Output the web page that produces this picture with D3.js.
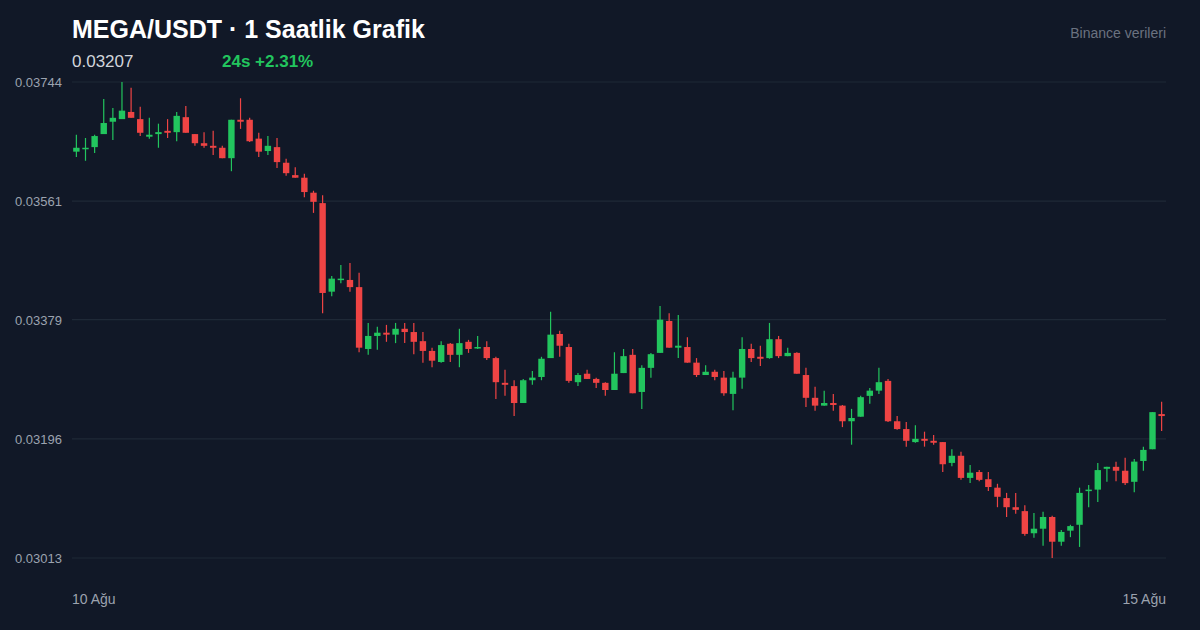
<!DOCTYPE html>
<html>
<head>
<meta charset="utf-8">
<script src="https://cdn.jsdelivr.net/npm/d3@7"></script>
<style>
  body { margin: 0; background: #111827; }
  svg { display: block; font-family: "Liberation Sans", Arial, sans-serif; }
</style>
</head>
<body>
<svg width="1200" height="630"></svg>
<script>
// hourly candles, 10 Ağu -> 15 Ağu (prices in USDT)
const open = [0.03637,0.03641,0.03644,0.03664,0.03683,0.03687,0.03698,0.03687,0.03660,0.03664,0.03669,0.03667,0.03690,0.03664,0.03650,0.03646,0.03643,0.03627,0.03686,0.03686,
  0.03657,0.03638,0.03644,0.03620,0.03601,0.03597,0.03574,0.03558,0.03422,0.03440,0.03440,0.03429,0.03334,0.03354,0.03359,0.03356,0.03365,0.03360,0.03346,0.03331,
  0.03314,0.03342,0.03325,0.03345,0.03336,0.03337,0.03320,0.03282,0.03277,0.03251,0.03286,0.03291,0.03320,0.03357,0.03337,0.03283,0.03296,0.03288,0.03282,0.03271,
  0.03297,0.03325,0.03268,0.03305,0.03328,0.03377,0.03336,0.03337,0.03313,0.03294,0.03299,0.03290,0.03265,0.03290,0.03334,0.03322,0.03320,0.03349,0.03323,0.03328,
  0.03294,0.03259,0.03247,0.03251,0.03247,0.03223,0.03230,0.03262,0.03270,0.03285,0.03223,0.03211,0.03191,0.03196,0.03193,0.03191,0.03159,0.03170,0.03136,0.03145,
  0.03134,0.03121,0.03105,0.03091,0.03085,0.03051,0.03058,0.03076,0.03038,0.03055,0.03064,0.03116,0.03118,0.03150,0.03153,0.03147,0.03130,0.03162,0.03180,0.03234];
const high = [0.03663,0.03658,0.03663,0.03718,0.03704,0.03744,0.03735,0.03706,0.03689,0.03680,0.03687,0.03698,0.03707,0.03664,0.03667,0.03669,0.03646,0.03686,0.03719,0.03689,
  0.03666,0.03661,0.03658,0.03626,0.03613,0.03603,0.03577,0.03570,0.03446,0.03463,0.03466,0.03451,0.03374,0.03368,0.03371,0.03374,0.03374,0.03374,0.03360,0.03336,
  0.03346,0.03343,0.03365,0.03348,0.03354,0.03346,0.03322,0.03302,0.03286,0.03288,0.03300,0.03322,0.03391,0.03362,0.03342,0.03297,0.03302,0.03290,0.03283,0.03329,
  0.03334,0.03334,0.03309,0.03328,0.03400,0.03389,0.03386,0.03352,0.03320,0.03309,0.03302,0.03300,0.03299,0.03352,0.03342,0.03339,0.03374,0.03354,0.03336,0.03329,
  0.03305,0.03276,0.03270,0.03265,0.03248,0.03242,0.03262,0.03274,0.03305,0.03288,0.03231,0.03222,0.03217,0.03207,0.03202,0.03191,0.03180,0.03176,0.03156,0.03148,
  0.03145,0.03127,0.03113,0.03113,0.03094,0.03082,0.03084,0.03078,0.03056,0.03064,0.03121,0.03125,0.03159,0.03153,0.03161,0.03167,0.03165,0.03184,0.03237,0.03253];
const low = [0.03629,0.03623,0.03635,0.03664,0.03655,0.03687,0.03689,0.03661,0.03657,0.03643,0.03658,0.03653,0.03666,0.03646,0.03643,0.03632,0.03627,0.03607,0.03672,0.03652,
  0.03629,0.03632,0.03612,0.03600,0.03597,0.03567,0.03543,0.03389,0.03415,0.03435,0.03422,0.03329,0.03325,0.03333,0.03345,0.03343,0.03343,0.03326,0.03313,0.03306,
  0.03313,0.03314,0.03306,0.03328,0.03334,0.03317,0.03257,0.03262,0.03231,0.03251,0.03279,0.03286,0.03320,0.03322,0.03282,0.03277,0.03288,0.03274,0.03262,0.03271,
  0.03297,0.03266,0.03242,0.03290,0.03328,0.03336,0.03320,0.03313,0.03291,0.03294,0.03286,0.03262,0.03240,0.03273,0.03314,0.03308,0.03319,0.03320,0.03323,0.03296,
  0.03245,0.03239,0.03247,0.03239,0.03214,0.03187,0.03230,0.03250,0.03265,0.03222,0.03210,0.03184,0.03190,0.03184,0.03187,0.03145,0.03154,0.03133,0.03128,0.03131,
  0.03116,0.03091,0.03076,0.03081,0.03047,0.03044,0.03032,0.03013,0.03032,0.03045,0.03030,0.03091,0.03099,0.03130,0.03131,0.03125,0.03114,0.03147,0.03180,0.03208];
const close = [0.03643,0.03643,0.03661,0.03681,0.03689,0.03700,0.03689,0.03666,0.03663,0.03667,0.03666,0.03692,0.03666,0.03650,0.03646,0.03643,0.03627,0.03686,0.03683,0.03653,
  0.03637,0.03646,0.03621,0.03604,0.03597,0.03575,0.03560,0.03420,0.03442,0.03442,0.03429,0.03336,0.03354,0.03359,0.03356,0.03365,0.03360,0.03345,0.03331,0.03316,
  0.03340,0.03325,0.03343,0.03334,0.03337,0.03320,0.03283,0.03279,0.03251,0.03286,0.03290,0.03319,0.03356,0.03339,0.03285,0.03294,0.03288,0.03282,0.03271,0.03296,
  0.03323,0.03266,0.03305,0.03326,0.03379,0.03336,0.03339,0.03313,0.03294,0.03299,0.03291,0.03266,0.03290,0.03334,0.03320,0.03319,0.03349,0.03323,0.03328,0.03296,
  0.03259,0.03247,0.03251,0.03248,0.03223,0.03228,0.03260,0.03270,0.03283,0.03223,0.03211,0.03193,0.03196,0.03193,0.03190,0.03157,0.03170,0.03136,0.03144,0.03133,
  0.03122,0.03107,0.03091,0.03087,0.03050,0.03058,0.03076,0.03038,0.03053,0.03062,0.03113,0.03118,0.03148,0.03153,0.03147,0.03128,0.03161,0.03179,0.03237,0.03231];
const yTicks = [0.03744, 0.03561, 0.03379, 0.03196, 0.03013];
const dateLabels = ['10 Ağu', '15 Ağu'];

const candles = open.map((o, i) => ({ i, o, h: high[i], l: low[i], c: close[i] }));

const svg = d3.select('svg');
const plotL = 72, plotR = 1166, plotT = 82, plotB = 558;

const x = d3.scalePoint().domain(d3.range(candles.length)).range([plotL, plotR]).padding(0.48);
const y = d3.scaleLinear().domain([0.03013, 0.03744]).range([plotB, plotT]);

// grid + labels
svg.selectAll('line.grid')
    .data(yTicks)
    .enter()
    .append('line')
    .attr('x1', plotL).attr('x2', plotR)
    .attr('y1', d => y(d)).attr('y2', d => y(d))
    .style('stroke', '#1f2937')
    .style('stroke-width', 1.2);

svg.selectAll('text.ytick')
    .data(yTicks)
    .enter()
    .append('text')
    .attr('x', 15)
    .attr('y', d => y(d) + 5)
    .style('fill', '#9ca3af')
    .style('font-size', '13px')
    .text(d => d.toFixed(5));

const green = '#22c55e', red = '#ef4444';
const col = d => d.c >= d.o ? green : red;

const g = svg.selectAll('g.candle')
    .data(candles)
    .enter()
    .append('g')
    .attr('transform', d => `translate(${x(d.i)},0)`);

g.append('line')
    .attr('y1', d => y(d.h)).attr('y2', d => y(d.l))
    .style('stroke', col)
    .style('stroke-width', 1.2);

g.append('rect')
    .attr('x', -3.2).attr('width', 6.4)
    .attr('y', d => y(Math.max(d.o, d.c)))
    .attr('height', d => Math.max(1.5, Math.abs(y(d.o) - y(d.c))))
    .style('fill', col);

// header
svg.append('text').attr('x', 72).attr('y', 38)
    .style('fill', '#ffffff').style('font-size', '25px').style('font-weight', 'bold')
    .text('MEGA/USDT · 1 Saatlik Grafik');
svg.append('text').attr('x', 72).attr('y', 67)
    .style('fill', '#d1d5db').style('font-size', '17px')
    .text('0.03207');
svg.append('text').attr('x', 222).attr('y', 67)
    .style('fill', green).style('font-size', '17px').style('font-weight', 'bold')
    .text('24s +2.31%');
svg.append('text').attr('x', 1166).attr('y', 38).attr('text-anchor', 'end')
    .style('fill', '#6b7280').style('font-size', '14px')
    .text('Binance verileri');

svg.append('text').attr('x', 72).attr('y', 604)
    .style('fill', '#9ca3af').style('font-size', '14px').text(dateLabels[0]);
svg.append('text').attr('x', 1166).attr('y', 604).attr('text-anchor', 'end')
    .style('fill', '#9ca3af').style('font-size', '14px').text(dateLabels[1]);
</script>
</body>
</html>
